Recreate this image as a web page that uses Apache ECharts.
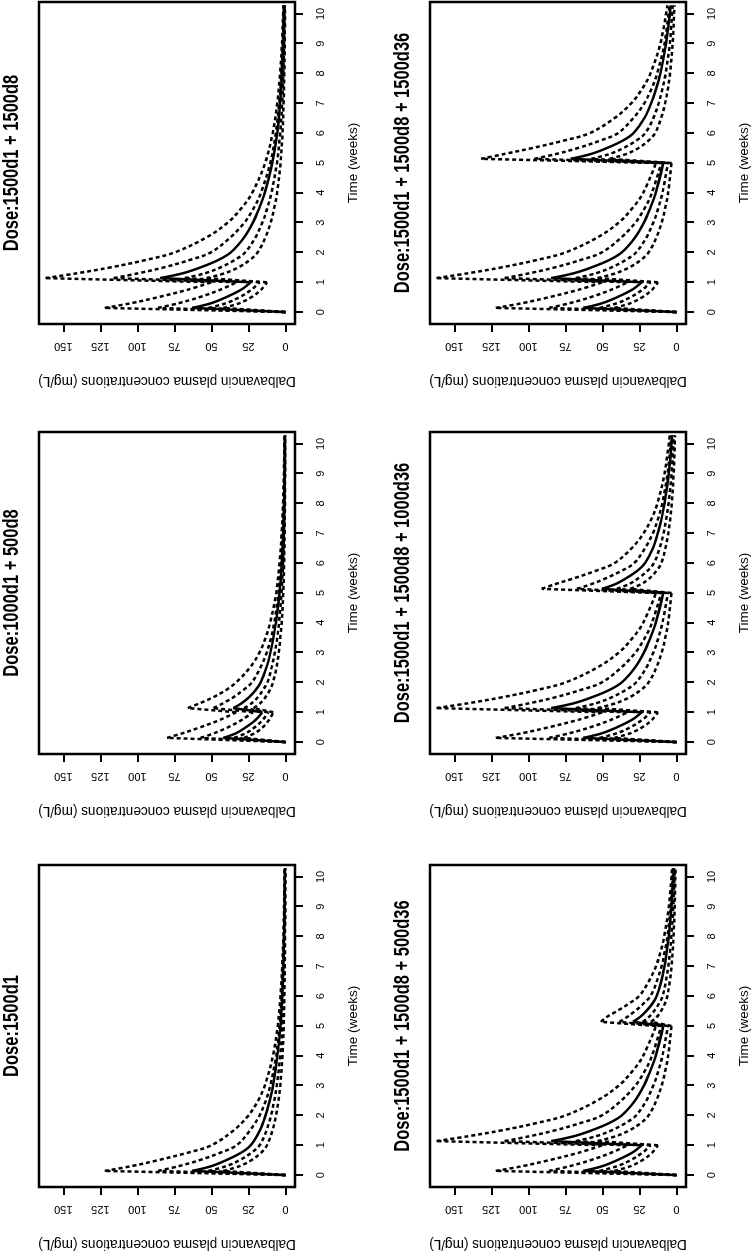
<!DOCTYPE html>
<html><head><meta charset="utf-8">
<script src="https://cdn.jsdelivr.net/npm/echarts@6/dist/echarts.min.js"></script>
<style>
html,body{margin:0;padding:0;background:#fff;overflow:hidden;width:751px;height:1251px;}
#wrap{position:absolute;left:0;top:0;width:1251px;height:751px;transform-origin:0 0;transform:translate(0px,1251px) rotate(-90deg);}
#chart{width:1251px;height:751px;background:#fff;}
</style></head><body>
<div id="wrap"><div id="chart"></div></div>
<script>
// ---- text ----
const panelTitles = ['Dose:1500d1', 'Dose:1000d1 + 500d8', 'Dose:1500d1 + 1500d8',
  'Dose:1500d1 + 1500d8 + 500d36', 'Dose:1500d1 + 1500d8 + 1000d36', 'Dose:1500d1 + 1500d8 + 1500d36'];
const xAxisName = 'Time (weeks)';
const yAxisName = 'Dalbavancin plasma concentrations (mg/L)';
const timeTicks = [0, 1, 2, 3, 4, 5, 6, 7, 8, 9, 10];
const concTicks = [0, 25, 50, 75, 100, 125, 150];

// ---- time points (weeks) ----
const weeksOneDose = [0, 0.14, 0.3, 0.5, 0.75, 1, 1.5, 2, 2.5, 3, 4, 5, 6, 7, 8, 9, 10.29];
const weeksTwoDoses = [0, 0.14, 0.3, 0.5, 0.75, 1, 1.14, 1.3, 1.5, 1.75, 2, 2.5, 3, 3.5, 4, 5, 6, 7, 8, 9, 10.29];
const weeksThreeDoses = [0, 0.14, 0.3, 0.5, 0.75, 1, 1.14, 1.3, 1.5, 1.75, 2, 2.5, 3, 3.5, 4, 5,
  5.14, 5.3, 5.5, 5.75, 6, 6.5, 7, 7.5, 8, 9, 10.29];

// ---- Dose:1500d1 ----
const a_p95 = [0, 122, 104, 86, 66, 50, 35, 25, 18.5, 14, 8.5, 5.3, 3.4, 2.2, 1.45, 0.95, 0.6];
const a_p75 = [0, 86, 72, 58, 44, 33, 24, 17.5, 13.3, 10.3, 6.3, 4.0, 2.6, 1.7, 1.1, 0.75, 0.45];
const a_p50 = [0, 63, 50, 40, 30, 23.5, 17.3, 13.5, 10.7, 8.5, 5.5, 3.4, 2.2, 1.45, 0.95, 0.63, 0.37];
const a_p25 = [0, 52, 40, 31, 23, 17.5, 12.8, 9.8, 7.6, 5.9, 3.6, 2.2, 1.4, 0.9, 0.58, 0.38, 0.22];
const a_p5  = [0, 42, 31, 23, 16.5, 12.5, 8.8, 6.4, 4.8, 3.6, 2.1, 1.25, 0.78, 0.5, 0.32, 0.21, 0.12];

// ---- Dose:1000d1 + 500d8 ----
const b_p95 = [0, 80, 69.3, 57.3, 44, 33.3, 66, 58, 49, 40, 33.4, 24, 17.6, 13.5, 10.4, 6.3, 4.1, 2.6, 1.7, 1.1, 0.68];
const b_p75 = [0, 57.3, 48, 38.7, 29.3, 22, 48.7, 42.3, 35.3, 28.4, 22.7, 16.9, 12.7, 9.7, 7.6, 4.8, 3.0, 2.0, 1.3, 0.87, 0.52];
const b_p50 = [0, 42, 33.3, 26.7, 20, 15.7, 35.3, 29.7, 24.8, 20.1, 16.8, 12.9, 10.2, 8.2, 6.5, 4.1, 2.6, 1.7, 1.1, 0.74, 0.44];
const b_p25 = [0, 34.7, 26.7, 20.7, 15.3, 11.7, 28, 23, 18.8, 15.2, 12.3, 9.4, 7.2, 5.6, 4.4, 2.7, 1.7, 1.07, 0.69, 0.44, 0.26];
const b_p5  = [0, 28, 20.7, 15.3, 11, 8.3, 21.5, 17.1, 13.6, 10.5, 8.5, 6.1, 4.5, 3.5, 2.6, 1.5, 0.94, 0.59, 0.38, 0.25, 0.14];

// ---- Dose:1500d1 + 1500d8 ----
const c_p95 = [0, 122, 104, 86, 66, 50, 162, 141, 118, 94, 75, 53.5, 39, 29.5, 22.5, 13.8, 8.7, 5.6, 3.65, 2.4, 1.45];
const c_p75 = [0, 86, 72, 58, 44, 33, 116, 99.5, 82, 64.5, 50.5, 37.3, 27.8, 21.3, 16.6, 10.3, 6.6, 4.3, 2.8, 1.85, 1.11];
const c_p50 = [0, 63, 50, 40, 30, 23.5, 84.5, 69.5, 57.3, 45.2, 37, 28, 22, 17.6, 14, 8.9, 5.6, 3.65, 2.4, 1.58, 0.93];
const c_p25 = [0, 52, 40, 31, 23, 17.5, 68, 54.5, 43.8, 34.2, 27.3, 20.4, 15.7, 12.2, 9.5, 5.8, 3.6, 2.3, 1.48, 0.96, 0.56];
const c_p5  = [0, 42, 31, 23, 16.5, 12.5, 53.3, 41.2, 31.8, 24, 18.9, 13.6, 10, 7.6, 5.7, 3.35, 2.03, 1.28, 0.82, 0.53, 0.3];

// ---- Dose:1500d1 + 1500d8 + 500d36 ----
const d_p95 = [0, 122, 104, 86, 66, 50, 162, 141, 118, 94, 75, 53.5, 39, 29.5, 22.5, 13.8,
  51, 47.2, 40.2, 32.2, 25.4, 18.7, 13.9, 10.7, 8.35, 5.2, 3.0];
const d_p75 = [0, 86, 72, 58, 44, 33, 116, 99.5, 82, 64.5, 50.5, 37.3, 27.8, 21.3, 16.6, 10.3,
  38.6, 33.4, 28, 22.3, 17.6, 13.3, 10.1, 7.9, 6.2, 3.95, 2.3];
const d_p50 = [0, 63, 50, 40, 30, 23.5, 84.5, 69.5, 57.3, 45.2, 37, 28, 22, 17.6, 14, 8.9,
  29.4, 24.6, 20.4, 16.3, 13.4, 10.3, 8.15, 6.55, 5.2, 3.4, 1.9];
const d_p25 = [0, 52, 40, 31, 23, 17.5, 68, 54.5, 43.8, 34.2, 27.3, 20.4, 15.7, 12.2, 9.5, 5.8,
  22.9, 18.6, 15.2, 11.9, 9.4, 7.2, 5.6, 4.35, 3.48, 2.16, 1.2];
const d_p5  = [0, 42, 31, 23, 16.5, 12.5, 53.3, 41.2, 31.8, 24, 18.9, 13.6, 10, 7.6, 5.7, 3.35,
  17.2, 13.35, 10.5, 7.9, 6.23, 4.5, 3.38, 2.62, 2.02, 1.23, 0.67];

// ---- Dose:1500d1 + 1500d8 + 1000d36 ----
const e_p95 = [0, 122, 104, 86, 66, 50, 162, 141, 118, 94, 75, 53.5, 39, 29.5, 22.5, 13.8,
  91, 81.8, 68.8, 54.2, 42, 30.3, 22.3, 16.8, 12.95, 8.1, 4.55];
const e_p75 = [0, 86, 72, 58, 44, 33, 116, 99.5, 82, 64.5, 50.5, 37.3, 27.8, 21.3, 16.6, 10.3,
  67.2, 57.4, 47.4, 36.9, 28.6, 21.3, 16, 12.4, 9.7, 6.05, 3.5];
const e_p50 = [0, 63, 50, 40, 30, 23.5, 84.5, 69.5, 57.3, 45.2, 37, 28, 22, 17.6, 14, 8.9,
  50.4, 41.2, 33.8, 26.3, 21.3, 16, 12.65, 10.05, 8.1, 5.3, 2.9];
const e_p25 = [0, 52, 40, 31, 23, 17.5, 68, 54.5, 43.8, 34.2, 27.3, 20.4, 15.7, 12.2, 9.5, 5.8,
  40.3, 32, 25.6, 19.5, 15.3, 11.4, 8.8, 6.95, 5.38, 3.36, 1.86];
const e_p5  = [0, 42, 31, 23, 16.5, 12.5, 53.3, 41.2, 31.8, 24, 18.9, 13.6, 10, 7.6, 5.7, 3.35,
  31.2, 23.75, 18.1, 13.4, 10.33, 7.5, 5.58, 4.22, 3.22, 1.93, 1.03];

// ---- Dose:1500d1 + 1500d8 + 1500d36 ----
const f_p95 = [0, 122, 104, 86, 66, 50, 162, 141, 118, 94, 75, 53.5, 39, 29.5, 22.5, 13.8,
  132, 116.5, 97.5, 76.2, 58.7, 42, 30.6, 23, 17.65, 10.9, 6.15];
const f_p75 = [0, 86, 72, 58, 44, 33, 116, 99.5, 82, 64.5, 50.5, 37.3, 27.8, 21.3, 16.6, 10.3,
  95.9, 81.4, 66.7, 51.6, 39.6, 29.3, 21.8, 16.8, 13.1, 8.15, 4.7];
const f_p50 = [0, 63, 50, 40, 30, 23.5, 84.5, 69.5, 57.3, 45.2, 37, 28, 22, 17.6, 14, 8.9,
  71.4, 57.9, 47.1, 36.3, 29.1, 21.8, 17.15, 13.65, 10.9, 7.1, 3.9];
const f_p25 = [0, 52, 40, 31, 23, 17.5, 68, 54.5, 43.8, 34.2, 27.3, 20.4, 15.7, 12.2, 9.5, 5.8,
  57.6, 45.3, 35.9, 27.2, 21.1, 15.7, 12.1, 9.45, 7.38, 4.56, 2.5];
const f_p5  = [0, 42, 31, 23, 16.5, 12.5, 53.3, 41.2, 31.8, 24, 18.9, 13.6, 10, 7.6, 5.7, 3.35,
  45.2, 34.05, 25.8, 18.9, 14.5, 10.4, 7.7, 5.8, 4.4, 2.6, 1.4];

const panelData = [
  { weeks: weeksOneDose, lines: [a_p95, a_p75, a_p50, a_p25, a_p5] },
  { weeks: weeksTwoDoses, lines: [b_p95, b_p75, b_p50, b_p25, b_p5] },
  { weeks: weeksTwoDoses, lines: [c_p95, c_p75, c_p50, c_p25, c_p5] },
  { weeks: weeksThreeDoses, lines: [d_p95, d_p75, d_p50, d_p25, d_p5] },
  { weeks: weeksThreeDoses, lines: [e_p95, e_p75, e_p50, e_p25, e_p5] },
  { weeks: weeksThreeDoses, lines: [f_p95, f_p75, f_p50, f_p25, f_p5] }
];

// ---- layout (unrotated frame 1251 x 751; page rotates it) ----
const GW = 322, GH = 256;
const gridPos = [[64, 39], [497, 39], [927, 39], [64, 430], [497, 430], [927, 430]];
const FONT = '"Liberation Sans", Arial, Helvetica, sans-serif';

// split a curve into rising (infusion) runs, drawn straight, and decay runs, drawn smoothed
function splitRuns(weeks, vals) {
  const runs = [];
  let up = vals[1] > vals[0];
  let cur = [[weeks[0], vals[0]]];
  for (let k = 1; k < vals.length; k++) {
    const u = vals[k] > vals[k - 1];
    if (u !== up) { runs.push({ up, pts: cur }); cur = [[weeks[k - 1], vals[k - 1]]]; up = u; }
    cur.push([weeks[k], vals[k]]);
  }
  runs.push({ up, pts: cur });
  return runs;
}

const grid = [], xAxis = [], yAxis = [], series = [], graphic = [];
gridPos.forEach(([l, t], i) => {
  grid.push({ left: l, top: t, width: GW, height: GH, show: true, borderColor: '#000', borderWidth: 2.5,
    backgroundColor: 'transparent', containLabel: false, outerBoundsMode: 'none' });
  xAxis.push({ gridIndex: i, type: 'value', min: -0.4, max: 10.4, position: 'bottom',
    axisLine: { show: false, onZero: false },
    axisTick: { show: true, customValues: timeTicks, length: 8, lineStyle: { color: '#000', width: 2 } },
    axisLabel: { customValues: timeTicks, margin: 20, fontSize: 11, color: '#000', fontFamily: FONT },
    splitLine: { show: false } });
  yAxis.push({ gridIndex: i, type: 'value', min: -6.4, max: 166.4, position: 'left',
    axisLine: { show: false, onZero: false },
    axisTick: { show: true, customValues: concTicks, length: 8, lineStyle: { color: '#000', width: 2 } },
    axisLabel: { customValues: concTicks, rotate: 90, margin: 17, fontSize: 11, color: '#000', fontFamily: FONT },
    splitLine: { show: false } });
  const pd = panelData[i];
  pd.lines.forEach((vals, j) => {
    splitRuns(pd.weeks, vals).forEach(run => {
      series.push({ type: 'line', xAxisIndex: i, yAxisIndex: i, symbol: 'none', silent: true, animation: false,
        z: j === 2 ? 4 : 3, smooth: run.up ? false : 0.35,
        lineStyle: { color: '#000', width: 2.5, type: j === 2 ? 'solid' : [4, 3] },
        data: run.pts });
    });
  });
  graphic.push({ type: 'text', x: l + GW / 2, y: t - 27, scaleY: 1.35, silent: true,
    style: { text: panelTitles[i], font: 'bold 16.5px ' + FONT, fill: '#000',
      textAlign: 'center', textVerticalAlign: 'middle', align: 'center', verticalAlign: 'middle' } });
  graphic.push({ type: 'text', x: l + GW / 2, y: t + GH + 58, silent: true,
    style: { text: xAxisName, font: '13.5px ' + FONT, fill: '#000',
      textAlign: 'center', textVerticalAlign: 'middle', align: 'center', verticalAlign: 'middle' } });
  graphic.push({ type: 'text', x: l - 57, y: t + GH / 2, rotation: Math.PI / 2, scaleY: 1.12, silent: true,
    style: { text: yAxisName, font: '13.6px ' + FONT, fill: '#000',
      textAlign: 'center', textVerticalAlign: 'middle', align: 'center', verticalAlign: 'middle' } });
});

const chart = echarts.init(document.getElementById('chart'), null, { renderer: 'canvas', devicePixelRatio: 1 });
chart.setOption({ animation: false, backgroundColor: '#fff', grid, xAxis, yAxis, series, graphic });
</script></body></html>
